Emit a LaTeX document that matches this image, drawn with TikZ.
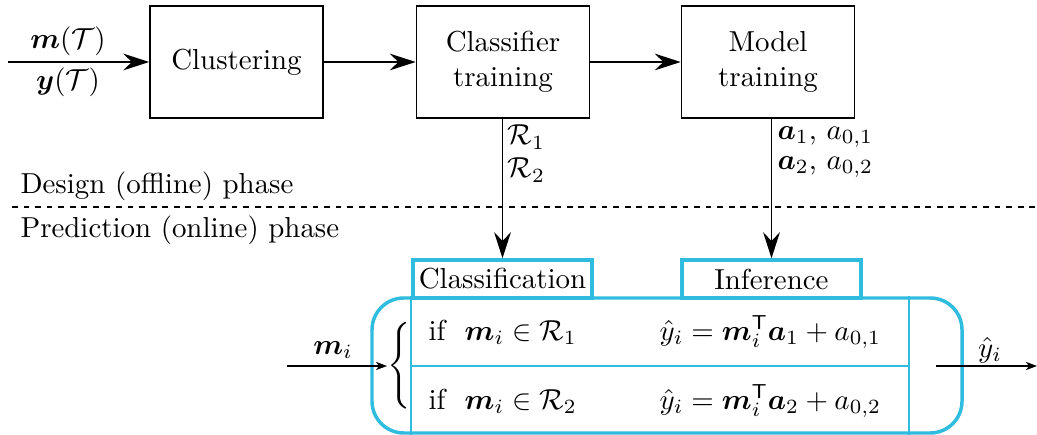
\documentclass[tikz,border=0pt]{standalone}
\usepackage{amsmath,amssymb,bm}
\usetikzlibrary{arrows.meta}
\newdimen\pxu \pxu=0.346pt
\definecolor{panelcyan}{RGB}{48,188,222}
\begin{document}
\begin{tikzpicture}[x=0.346pt, y=-0.346pt,
  procbox/.style={draw, line width=0.55pt, minimum width=173\pxu, minimum height=112\pxu, align=center, inner sep=0pt},
  tagbox/.style={draw=panelcyan, line width=1.2pt, minimum width=179\pxu, minimum height=38\pxu, inner sep=0pt},
  bigarrow/.style={-{Stealth[length=9pt,width=5.8pt,inset=3pt]}, line width=0.55pt},
  smallarrow/.style={-{Stealth[length=3.8pt,width=2.8pt,inset=1pt]}, line width=0.55pt},
  thinc/.style={draw=panelcyan, line width=0.45pt},
  lbl/.style={inner sep=0pt, anchor=west}
]
\useasboundingbox (0,0) rectangle (1037,435);

% design phase: processing chain
\node[procbox] (clu) at (236.5,62) {Clustering};
\node[procbox] (cls) at (503,62) {Classifier\\training};
\node[procbox] (mod) at (768,62) {Model\\training};

\coordinate (in) at (8,62);
\draw[bigarrow] (in) -- (clu);
\node (inm) at (68,41) {$\boldsymbol{m}(\mathcal{T})$};
\node (iny) at (68,82) {$\boldsymbol{y}(\mathcal{T})$};
\draw[bigarrow] (clu) -- (cls);
\draw[bigarrow] (cls) -- (mod);

% phase separator
\coordinate (dl) at (12,207);
\coordinate (dr) at (1037,207);
\draw[line width=0.5pt, dash pattern=on 2pt off 2pt] (dl) -- (dr);
\node[lbl] (design) at (20,186) {Design (offline) phase};
\node[lbl] (predict) at (20,230) {Prediction (online) phase};

% prediction phase panel
\node[draw=panelcyan, line width=1.2pt, rounded corners=11pt, minimum width=590\pxu, minimum height=135\pxu, inner sep=0pt] (panel) at (667,365.5) {};
\node[tagbox] (clf) at (502.5,279) {Classification};
\node[tagbox] (inf) at (771.5,279) {Inference};

\coordinate (vl) at (411,366);
\coordinate (vr) at (909,366);
\draw[thinc] (vl |- panel.north) -- (vl |- panel.south);
\draw[thinc] (vr |- panel.north) -- (vr |- panel.south);
\draw[thinc] (vl) -- (vr);

% parameters passed down
\draw[bigarrow] (clf.north |- cls.south) -- (clf.north);
\draw[bigarrow] (inf.north |- mod.south) -- (inf.north);
\node[lbl] (r1) at (507,137) {$\mathcal{R}_1$};
\node[lbl] (r2) at (507,170) {$\mathcal{R}_2$};
\node[lbl] (a1) at (777,137) {$\boldsymbol{a}_1$, $a_{0,1}$};
\node[lbl] (a2) at (777,167) {$\boldsymbol{a}_2$, $a_{0,2}$};

% piecewise rows
\node[inner sep=0pt] (brace) at (401,366) {$\left\{\rule[-12pt]{0pt}{24pt}\right.$};
\node[lbl] (c1) at (428,332) {if\ \ $\boldsymbol{m}_i \in \mathcal{R}_1$};
\node[lbl] (c2) at (428,401) {if\ \ $\boldsymbol{m}_i \in \mathcal{R}_2$};
\node[lbl] (e1) at (659,332) {$\hat{y}_i = \boldsymbol{m}_i^{\mathsf{T}}\boldsymbol{a}_1 + a_{0,1}$};
\node[lbl] (e2) at (659,401) {$\hat{y}_i = \boldsymbol{m}_i^{\mathsf{T}}\boldsymbol{a}_2 + a_{0,2}$};

% input and output of the prediction
\coordinate (min) at (287,366);
\draw[smallarrow] (min) -- (brace.west);
\node (mil) at (333,350) {$\boldsymbol{m}_i$};
\coordinate (outs) at (936,366);
\coordinate (oute) at (1037,366);
\draw[smallarrow] (outs) -- (oute);
\node (yl) at (990,350) {$\hat{y}_i$};
\end{tikzpicture}
\end{document}
